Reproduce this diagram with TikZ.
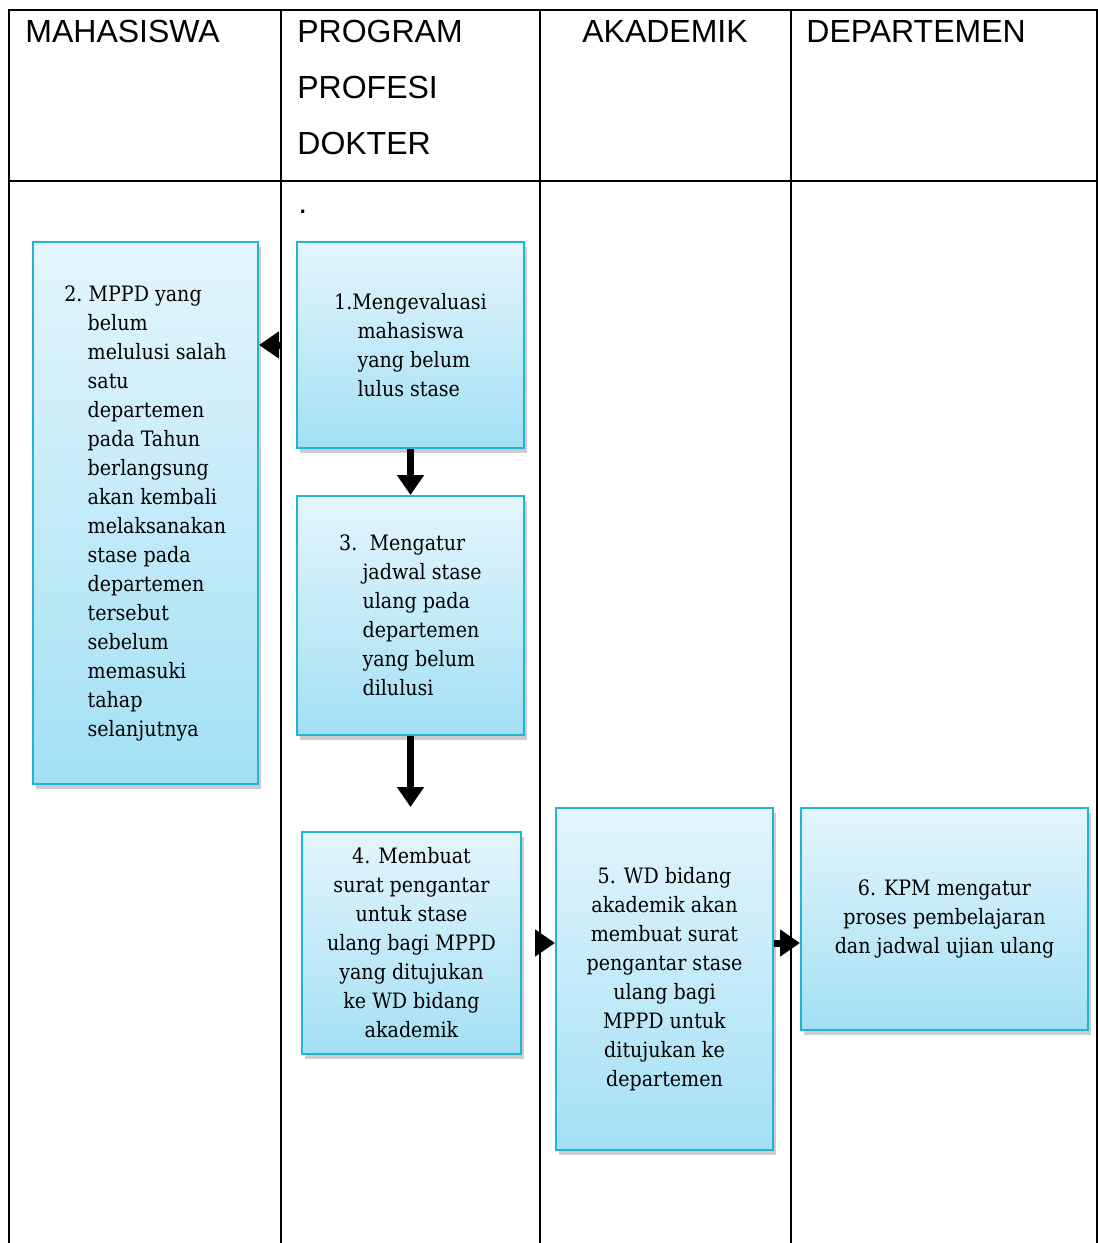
\documentclass[tikz,border=0pt]{standalone}
\usepackage{fontspec}
\setmainfont{DejaVu Serif Condensed}
\newfontfamily\judulfont{Liberation Sans}
\usetikzlibrary{arrows.meta,shadows}
\definecolor{kotakatas}{HTML}{E4F5FC}
\definecolor{kotakbawah}{HTML}{A3E0F4}
\definecolor{garistepi}{HTML}{22B5D3}
\newcommand{\ind}{\hspace*{1.1em}}

\begin{document}
\begin{tikzpicture}[x=0.5pt,y=-0.5pt]%[baseline=-0.3ex]
    \tikzstyle{proses}=[draw=garistepi, line width=1pt, top color=kotakatas, bottom color=kotakbawah, drop shadow={shadow xshift=1.5pt,shadow yshift=-2.5pt,fill=black!40}, inner sep=0pt, font=\fontsize{10.6}{14.5}\selectfont]
    \tikzstyle{judul}=[inner sep=0pt, font=\judulfont\fontsize{16}{28}\selectfont, align=left]
    \tikzstyle{panah}=[line width=3.5pt, -{Triangle[width=13pt,length=10pt]}]
    \useasboundingbox (0,0) rectangle (1098,1243);
    % tabel
    \draw[line width=1pt] (9,1243) -- (9,10) -- (1097,10) -- (1097,1243);
    \draw[line width=1pt] (9,181) -- (1097,181);
    \foreach \x in {281,540,791} \draw[line width=1pt] (\x,10) -- (\x,1243);
    \node[judul, anchor=north west] (mhs) at (25,20) {MAHASISWA};
    \node[judul, anchor=north west] (ppd) at (297,20) {PROGRAM\\PROFESI\\DOKTER};
    \node[judul, anchor=north] (akd) at (665,20) {AKADEMIK};
    \node[judul, anchor=north west] (dept) at (806,20) {DEPARTEMEN};
    \node[judul, anchor=south west] (titik) at (298,214) {.};
    % kotak
    \node[proses, align=left, minimum width=113.5pt, minimum height=103pt] (evaluasi) at (410.5,345) {1.Mengevaluasi\\\ind mahasiswa\\\ind yang belum\\\ind lulus stase};
    \node[proses, align=left, minimum width=112.5pt, minimum height=271pt] (mppd) at (145.5,513) {2.\ MPPD yang\\\ind belum\\\ind melulusi salah\\\ind satu\\\ind departemen\\\ind pada Tahun\\\ind berlangsung\\\ind akan kembali\\\ind melaksanakan\\\ind stase pada\\\ind departemen\\\ind tersebut\\\ind sebelum\\\ind memasuki\\\ind tahap\\\ind selanjutnya};
    \node[proses, align=left, minimum width=113.5pt, minimum height=119.5pt] (jadwal) at (410.5,615.5) {3.\ \ Mengatur\\\ind jadwal stase\\\ind ulang pada\\\ind departemen\\\ind yang belum\\\ind dilulusi};
    \node[proses, align=center, minimum width=109.5pt, minimum height=111pt] (surat) at (411.5,943) {4. Membuat\\surat pengantar\\untuk stase\\ulang bagi MPPD\\yang ditujukan\\ke WD bidang\\akademik};
    \node[proses, align=center, minimum width=108.5pt, minimum height=171pt] (wd) at (664.5,979) {5. WD bidang\\akademik akan\\membuat surat\\pengantar stase\\ulang bagi\\MPPD untuk\\ditujukan ke\\departemen};
    \node[proses, align=center, minimum width=143.5pt, minimum height=111pt] (kpm) at (944.5,919) {6. KPM mengatur\\proses pembelajaran\\dan jadwal ujian ulang};
    % panah
    \draw[panah, shorten <=7pt] (evaluasi.west) -- (evaluasi.west -| mppd.east);
    \draw[panah] (evaluasi.south) -- (jadwal.north);
    \draw[panah, shorten >=12pt] (jadwal.south) -- (jadwal.south |- surat.north);
    \draw[panah, shorten <=8pt] (surat.east) -- (surat.east -| wd.west);
    \draw[panah] (surat.east -| wd.east) -- (surat.east -| kpm.west);
  \end{tikzpicture}
\end{document}
